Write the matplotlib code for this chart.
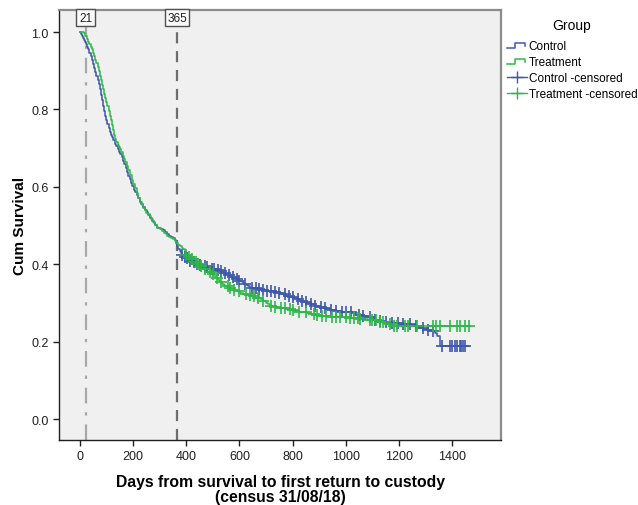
import numpy as np
import matplotlib
matplotlib.use('Agg')
import matplotlib.pyplot as plt
from matplotlib.lines import Line2D
from matplotlib.legend_handler import HandlerBase

plt.rcParams['font.family'] = ['Liberation Sans', 'DejaVu Sans']

# ---------------- data ----------------
control_days = [0, 4, 8, 12, 16, 19, 23, 27, 31, 35, 40, 45, 50, 54, 58, 62, 66, 70, 75, 79, 83, 87,
                91, 94, 98, 103, 108, 112, 116, 120, 126, 132, 137, 142, 147, 152, 157, 162, 167,
                172, 177, 182, 188, 193, 197, 202, 207, 213, 219, 225, 231, 237, 244, 251, 257, 263,
                270, 277, 283, 289, 297, 305, 314, 321, 328, 335, 342, 350, 358, 362, 366, 370, 375,
                380, 385, 389, 397, 405, 412, 420, 430, 440, 452, 465, 478, 490, 500, 510, 518, 527,
                538, 550, 560, 570, 580, 590, 600, 610, 618, 625, 632, 640, 655, 670, 685, 700, 715,
                730, 745, 760, 775, 790, 803, 815, 828, 840, 853, 866, 883, 900, 914, 928, 944, 960,
                982, 1004, 1022, 1040, 1060, 1079, 1095, 1110, 1125, 1141, 1160, 1180, 1205, 1229,
                1245, 1260, 1276, 1292, 1306, 1320, 1336, 1345, 1355]
control_surv = [1.0, 0.995, 0.99, 0.985, 0.98, 0.975, 0.968, 0.962, 0.955, 0.946, 0.937, 0.928,
                0.918, 0.908, 0.897, 0.886, 0.876, 0.865, 0.852, 0.838, 0.824, 0.81, 0.796, 0.784,
                0.774, 0.763, 0.752, 0.743, 0.735, 0.728, 0.72, 0.712, 0.705, 0.698, 0.691, 0.685,
                0.678, 0.668, 0.658, 0.648, 0.638, 0.629, 0.62, 0.61, 0.601, 0.593, 0.586, 0.578,
                0.57, 0.562, 0.555, 0.548, 0.541, 0.534, 0.527, 0.52, 0.513, 0.507, 0.501, 0.495,
                0.493, 0.491, 0.489, 0.483, 0.478, 0.474, 0.47, 0.467, 0.463, 0.455, 0.447, 0.44,
                0.434, 0.428, 0.423, 0.418, 0.415, 0.412, 0.409, 0.406, 0.403, 0.40, 0.398, 0.395,
                0.392, 0.388, 0.387, 0.385, 0.384, 0.382, 0.378, 0.375, 0.372, 0.368, 0.365, 0.362,
                0.358, 0.354, 0.35, 0.346, 0.343, 0.34, 0.338, 0.336, 0.334, 0.332, 0.33, 0.328,
                0.325, 0.322, 0.318, 0.315, 0.312, 0.31, 0.306, 0.303, 0.3, 0.297, 0.293, 0.29,
                0.287, 0.284, 0.282, 0.28, 0.278, 0.276, 0.273, 0.27, 0.266, 0.263, 0.26, 0.257,
                0.254, 0.25, 0.249, 0.248, 0.246, 0.245, 0.243, 0.24, 0.236, 0.233, 0.23, 0.228,
                0.222, 0.214, 0.189]
control_end = 1449
control_censored = [385, 395, 402, 415, 428, 440, 452, 470, 478, 495, 505, 520, 532, 545, 560, 575,
                    590, 600, 620, 648, 662, 675, 690, 705, 720, 735, 748, 770, 785, 800, 820, 835,
                    850, 870, 885, 905, 920, 945, 965, 985, 1000, 1020, 1050, 1065, 1090, 1110, 1130,
                    1150, 1175, 1195, 1215, 1240, 1265, 1290, 1310, 1330, 1361, 1393, 1400, 1410,
                    1420, 1428, 1435, 1442, 1449]

treatment_days = [0, 15, 20, 25, 30, 35, 40, 45, 50, 54, 58, 62, 66, 70, 75, 79, 83, 87, 91, 94, 98,
                  103, 108, 113, 117, 121, 125, 129, 132, 137, 142, 147, 151, 156, 161, 166, 171,
                  176, 182, 188, 194, 200, 206, 213, 219, 226, 232, 238, 244, 250, 257, 263, 269,
                  275, 282, 288, 294, 301, 308, 315, 322, 329, 336, 343, 350, 356, 362, 368, 375,
                  382, 388, 394, 400, 407, 414, 422, 430, 439, 448, 456, 464, 474, 483, 492, 502,
                  511, 520, 528, 535, 541, 546, 558, 570, 580, 590, 602, 615, 630, 645, 660, 677,
                  690, 700, 708, 715, 730, 745, 760, 778, 795, 810, 825, 840, 855, 870, 886, 903,
                  920, 940, 965, 991, 1010, 1030, 1048, 1066, 1085, 1104, 1122, 1141, 1155, 1170]
treatment_surv = [1.0, 0.997, 0.99, 0.982, 0.975, 0.968, 0.962, 0.955, 0.947, 0.938, 0.929, 0.92,
                  0.911, 0.9, 0.887, 0.876, 0.864, 0.852, 0.84, 0.83, 0.82, 0.808, 0.796, 0.784,
                  0.772, 0.759, 0.746, 0.734, 0.724, 0.716, 0.709, 0.703, 0.698, 0.69, 0.681, 0.672,
                  0.663, 0.655, 0.643, 0.631, 0.619, 0.607, 0.596, 0.584, 0.572, 0.56, 0.553, 0.546,
                  0.539, 0.533, 0.529, 0.525, 0.516, 0.508, 0.502, 0.497, 0.494, 0.491, 0.486, 0.481,
                  0.477, 0.473, 0.47, 0.468, 0.465, 0.459, 0.454, 0.449, 0.446, 0.443, 0.44, 0.432,
                  0.425, 0.418, 0.413, 0.409, 0.405, 0.4, 0.395, 0.391, 0.388, 0.383, 0.379, 0.375,
                  0.37, 0.365, 0.36, 0.355, 0.35, 0.347, 0.344, 0.34, 0.336, 0.333, 0.33, 0.326,
                  0.323, 0.32, 0.317, 0.313, 0.31, 0.305, 0.30, 0.297, 0.293, 0.29, 0.288, 0.286,
                  0.284, 0.282, 0.28, 0.278, 0.276, 0.273, 0.271, 0.269, 0.267, 0.266, 0.265, 0.264,
                  0.263, 0.262, 0.26, 0.259, 0.258, 0.257, 0.255, 0.252, 0.248, 0.245, 0.241]
treatment_end = 1462
treatment_censored = [400, 410, 420, 435, 445, 455, 470, 490, 500, 515, 530, 555, 565, 580, 600, 625,
                      640, 655, 668, 690, 720, 735, 755, 770, 790, 800, 825, 850, 880, 890, 910, 925,
                      950, 965, 980, 1000, 1016, 1030, 1045, 1054, 1091, 1100, 1115, 1130, 1140, 1167,
                      1180, 1193, 1223, 1235, 1268, 1328, 1340, 1355, 1393, 1419, 1430, 1449, 1462]

ref_days = [21, 365]
group_labels = ['Control', 'Treatment']

blue = '#3E58AC'
green = '#2EB848'

# ---------------- figure ----------------
fig = plt.figure(figsize=(6.38, 5.06), dpi=100)
ax = fig.add_axes([59 / 638, 1 - 441 / 506, 442 / 638, 430 / 506])
ax.set_facecolor('#F0F0F0')
ax.set_xlim(-79, 1584)
ax.set_ylim(-0.054, 1.057)


def km_plot(days, surv, end, cens, color):
    d = np.array(days + [end], dtype=float)
    s = np.array(surv + [surv[-1]], dtype=float)
    ax.plot(d, s, drawstyle='steps-post', color=color, lw=1.1, zorder=3)
    idx = np.searchsorted(np.array(days), np.array(cens), side='right') - 1
    cy = np.array(surv)[idx]
    ax.plot(cens, cy, linestyle='none', marker='+', ms=8, mew=1.2, color=color, zorder=4)


km_plot(control_days, control_surv, control_end, control_censored, blue)
km_plot(treatment_days, treatment_surv, treatment_end, treatment_censored, green)

# reference lines
ax.axvline(ref_days[0], color='#A8A8A8', lw=1.6, linestyle=(0, (7, 4, 1.5, 4)), zorder=2)
ax.axvline(ref_days[1], color='#6E6E6E', lw=1.6, linestyle=(0, (5, 3.5)), zorder=2)
for d in ref_days:
    ax.text(d, 1.037, str(d), ha='center', va='center', fontsize=8.5, color='#202020',
            bbox=dict(boxstyle='square,pad=0.22', fc='#FAFAFA', ec='#505050', lw=1.0),
            zorder=6, clip_on=False)

# axes styling
ax.set_xticks(np.arange(0, 1401, 200))
ax.set_yticks(np.arange(0, 1.01, 0.2))
ax.set_yticklabels([f'{v:.1f}' for v in np.arange(0, 1.01, 0.2)])
ax.tick_params(axis='both', direction='out', length=4, width=1, labelsize=9, colors='#202020',
               top=False, right=False)
for side in ['left', 'bottom']:
    ax.spines[side].set_color('#202020')
    ax.spines[side].set_linewidth(1)
for side in ['top', 'right']:
    ax.spines[side].set_color('#8C8C8C')
    ax.spines[side].set_linewidth(1.6)

ax.set_ylabel('Cum Survival', fontsize=11, fontweight='bold', labelpad=3)
ax.set_xlabel('Days from survival to first return to custody\n(census 31/08/18)',
              fontsize=11.3, fontweight='bold', labelpad=8, linespacing=1.05)


# legend
class StepHandler(HandlerBase):
    def create_artists(self, legend, orig_handle, xdescent, ydescent, width, height, fontsize, trans):
        xs = np.array([0, 0.4, 0.4, 0.9, 0.9]) * width - xdescent
        ys = np.array([0.1, 0.1, 0.75, 0.75, 0.4]) * height - ydescent
        ln = Line2D(xs, ys, color=orig_handle.get_color(), lw=1.1)
        ln.set_transform(trans)
        return [ln]


h_ctrl = Line2D([], [], color=blue)
h_trt = Line2D([], [], color=green)
h_ctrl_c = Line2D([], [], color=blue, marker='+', ms=8, lw=1)
h_trt_c = Line2D([], [], color=green, marker='+', ms=8, lw=1)
leg = fig.legend([h_ctrl, h_trt, h_ctrl_c, h_trt_c],
                 [group_labels[0], group_labels[1], group_labels[0] + ' -censored',
                  group_labels[1] + ' -censored'],
                 handler_map={h_ctrl: StepHandler(), h_trt: StepHandler()},
                 loc='upper left', bbox_to_anchor=(502 / 638, 1 - 18 / 506),
                 frameon=False, fontsize=8.5, title='Group', title_fontsize=10,
                 handlelength=1.75, handletextpad=0.1, labelspacing=0.35, borderaxespad=0,
                 numpoints=1)
leg.get_title().set_position((0, 4))

fig.savefig('out.png', dpi=100)
